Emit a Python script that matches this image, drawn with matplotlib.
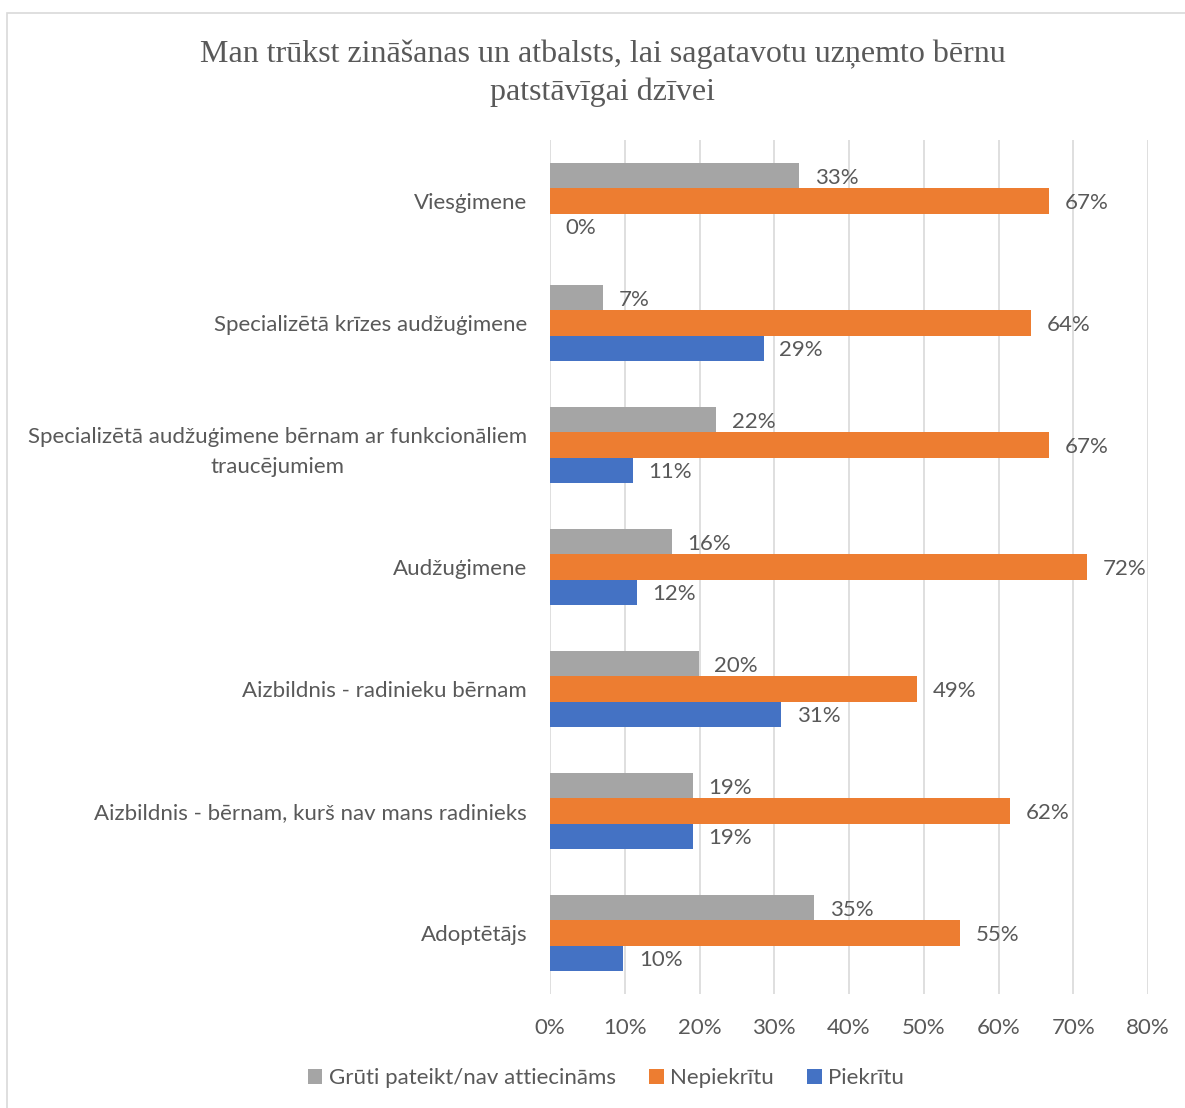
import matplotlib.pyplot as plt
import numpy as np
from matplotlib.patches import Rectangle

categories = ['Viesģimene',
              'Specializētā krīzes audžuģimene',
              'Specializētā audžuģimene bērnam ar funkcionāliem\ntraucējumiem',
              'Audžuģimene',
              'Aizbildnis - radinieku bērnam',
              'Aizbildnis - bērnam, kurš nav mans radinieks',
              'Adoptētājs']
grūti = [0.333, 0.071, 0.222, 0.163, 0.199, 0.191, 0.353]
nepiekritu = [0.667, 0.643, 0.667, 0.718, 0.491, 0.615, 0.548]
piekritu = [0.0, 0.286, 0.111, 0.116, 0.309, 0.191, 0.098]
series_names = ['Grūti pateikt/nav attiecināms', 'Nepiekrītu', 'Piekrītu']
colors = ['#A5A5A5', '#ED7D31', '#4472C4']
xticks = [0, 0.1, 0.2, 0.3, 0.4, 0.5, 0.6, 0.7, 0.8]

txt = '#595959'
plt.rcParams['font.family'] = ['Lato', 'DejaVu Sans']

fig = plt.figure(figsize=(11.85, 11.08), dpi=100)
# chart area border
fig.add_artist(Rectangle((7 / 1185, -0.01), 1.1, (1108 - 13) / 1108 + 0.01,
                         transform=fig.transFigure, fill=False,
                         edgecolor='#D9D9D9', linewidth=1.2))

ax = fig.add_axes([550 / 1185, 114 / 1108, 598 / 1185, 854 / 1108])

y = np.arange(len(categories))
h = 0.205
for k, vals in enumerate([grūti, nepiekritu, piekritu]):
    pos = y + (k - 1) * h
    ax.barh(pos, vals, height=h, color=colors[k], label=series_names[k], zorder=2)
    for p, v in zip(pos, vals):
        ax.text(v + 0.021, p + 0.015, '%d%%' % round(v * 100), va='center', ha='left',
                fontsize=16, color=txt)

ax.set_xlim(0, 0.8)
ax.set_ylim(len(categories) - 0.5, -0.5)
ax.set_xticks(xticks)
ax.set_xticklabels(['%d%%' % round(t * 100) for t in xticks], fontsize=16, color=txt)
ax.set_yticks(y)
ax.set_yticklabels(categories, fontsize=16, color=txt, linespacing=1.6,
                   multialignment='center')
ax.tick_params(axis='both', length=0)
ax.tick_params(axis='x', pad=17)
ax.tick_params(axis='y', pad=16.5)
ax.grid(axis='x', color='#D9D9D9', linewidth=1.2, zorder=0)
for s in ax.spines.values():
    s.set_visible(False)

fig.text(603 / 1185, 1 - 73 / 1108,
         'Man trūkst zināšanas un atbalsts, lai sagatavotu uzņemto bērnu\npatstāvīgai dzīvei',
         ha='center', va='center', fontsize=23, color=txt,
         family=['Liberation Serif', 'DejaVu Serif'], linespacing=1.38)

fig.legend(loc='center', bbox_to_anchor=(606 / 1185, 1 - 1078 / 1108), ncol=3,
           frameon=False, fontsize=16, handlelength=0.65, handleheight=0.65,
           handletextpad=0.3, columnspacing=1.5, labelcolor=txt)

fig.savefig('out.png', dpi=100)
